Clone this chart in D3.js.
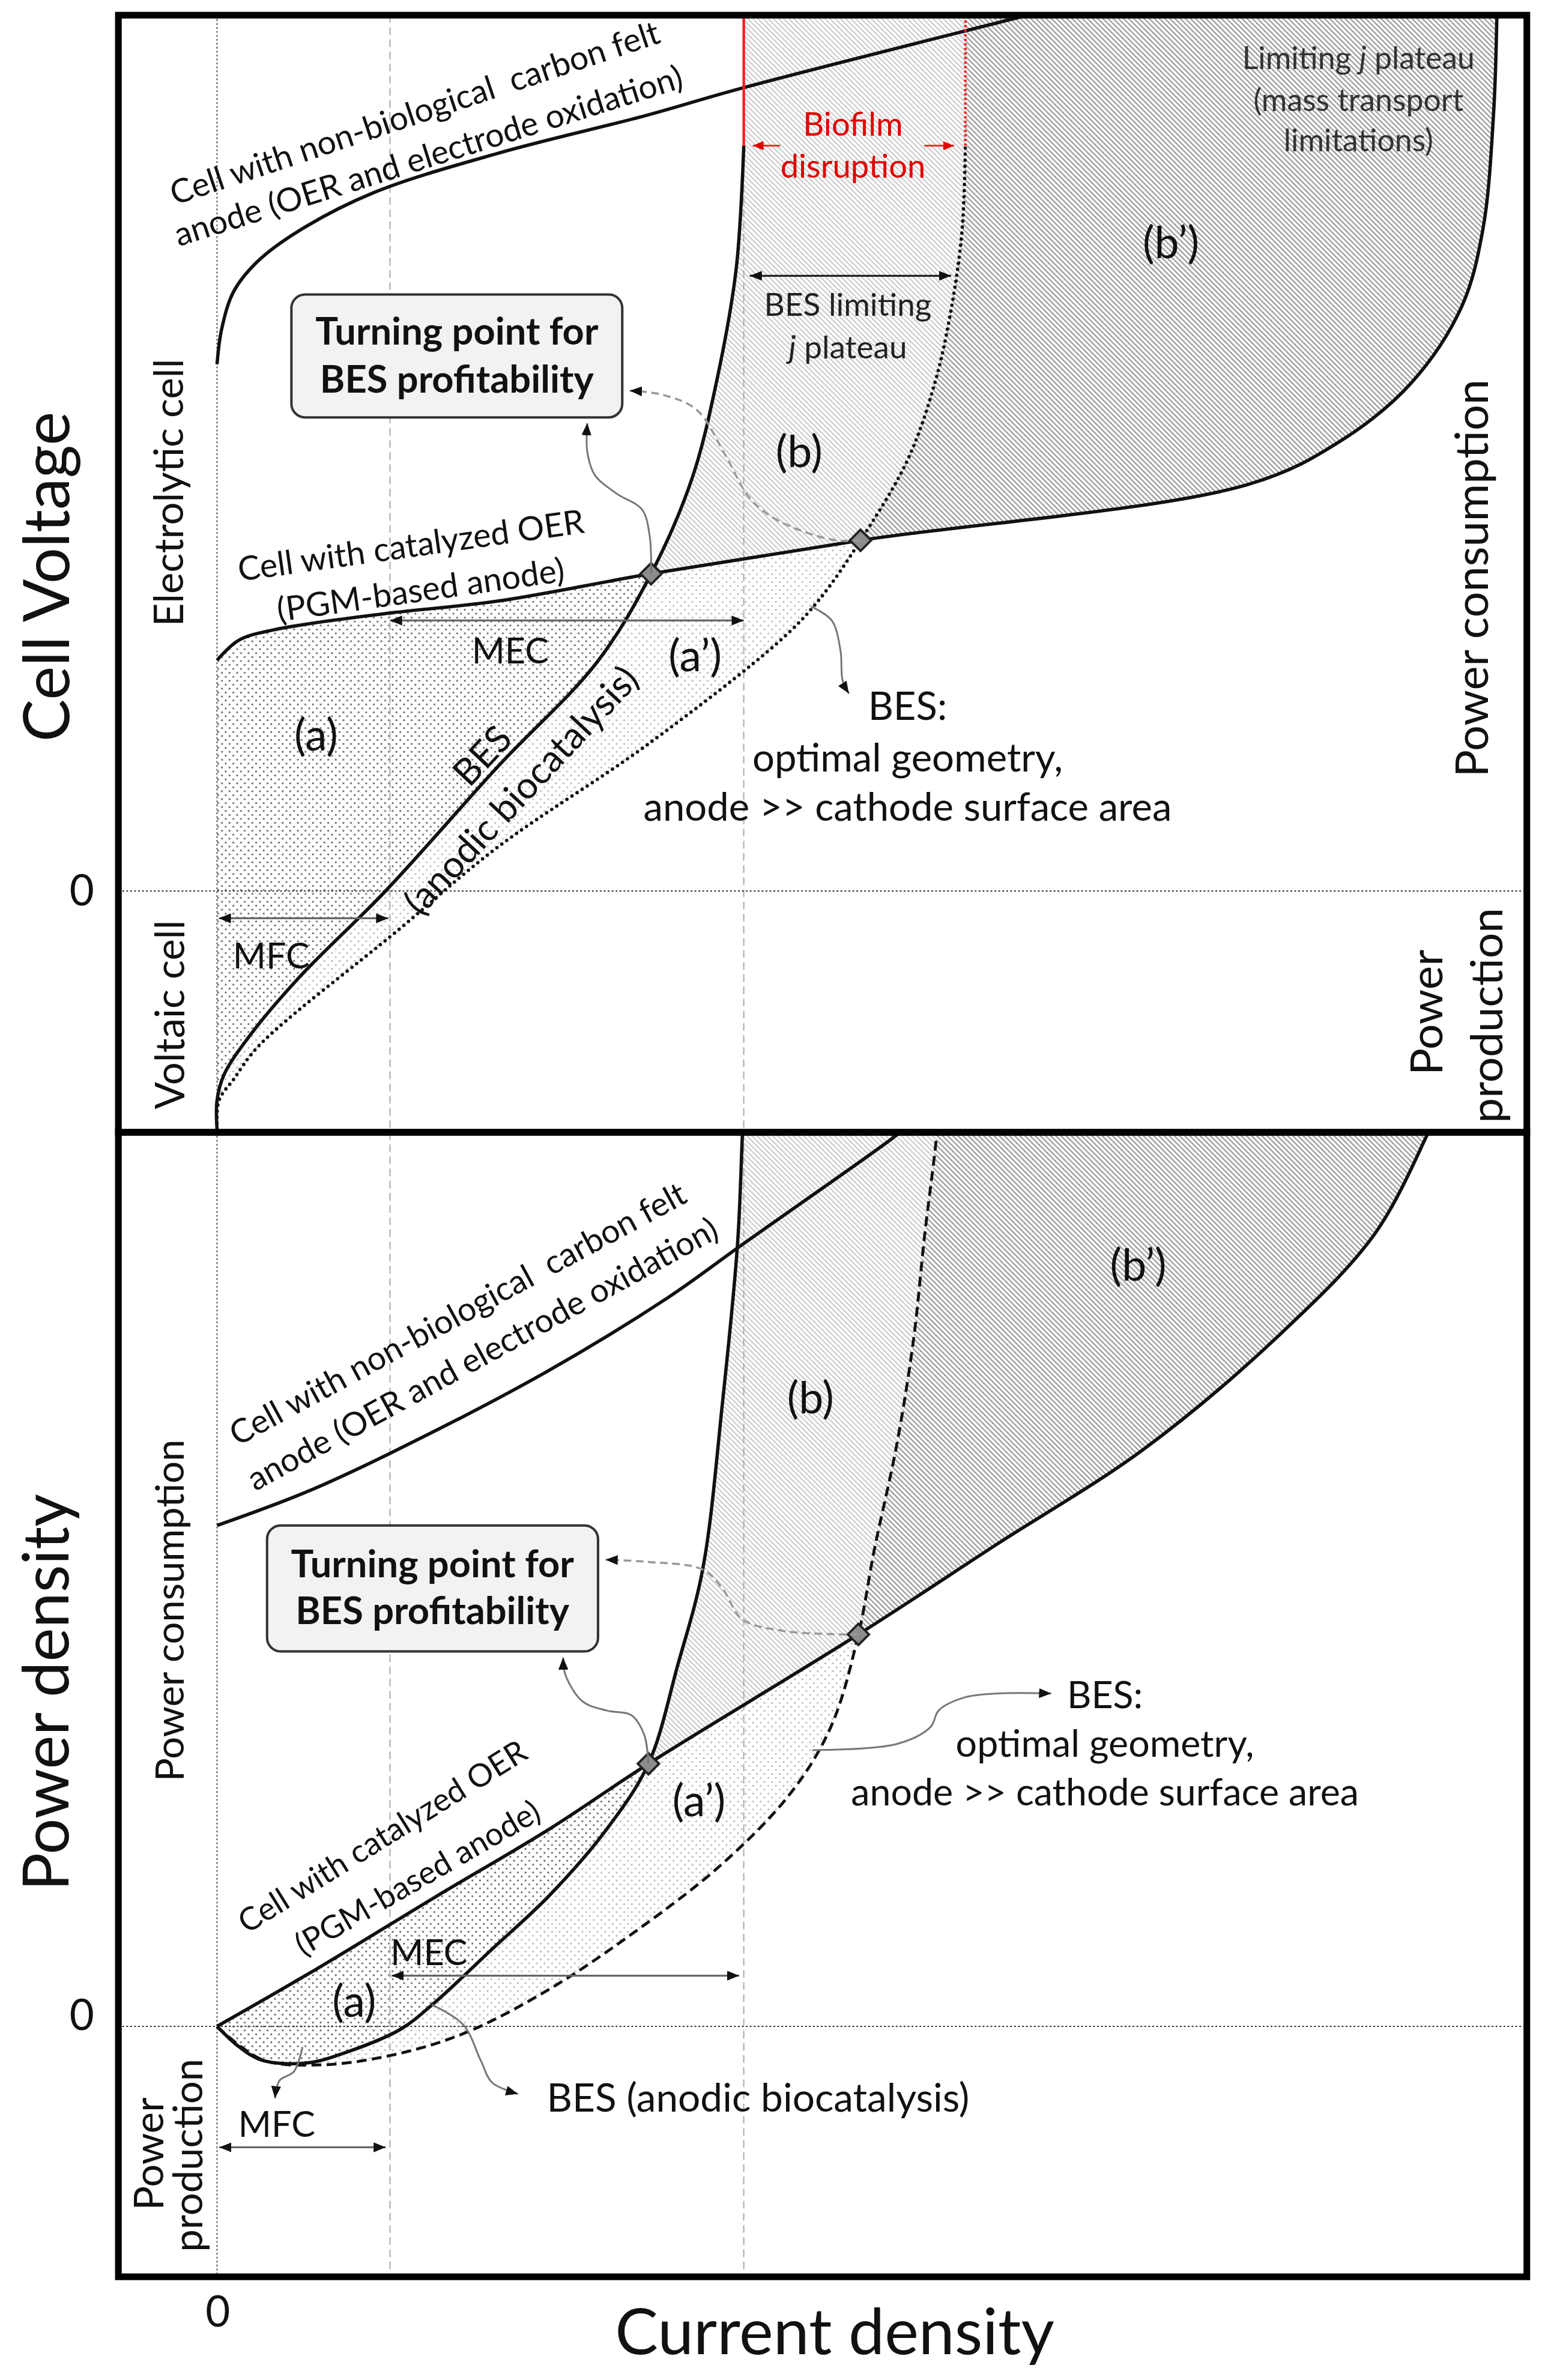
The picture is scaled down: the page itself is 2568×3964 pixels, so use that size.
<!DOCTYPE html>
<html lang="en">
<head>
<meta charset="utf-8">
<title>Cell voltage and power density vs current density</title>
<script src="https://cdn.jsdelivr.net/npm/d3@7"></script>
<style>
  body { margin: 0; background: #fff; }
  svg text { font-family: Lato, "Open Sans", sans-serif; fill: #111; }
</style>
</head>
<body>
<script>
// ---- values (schematic, arbitrary units) ----
// j = current density, V = cell voltage, P = power density
var jMFC = 0.985;   // dashed line: end of MFC range
var jMEC = 3.0;     // dashed line: BES limiting j / start of biofilm disruption
var jOpt = 4.262;   // limiting j of the optimal-geometry BES

// cell voltage panel
var feltV = [[0, 3.47], [0.026, 3.70], [0.095, 3.95], [0.233, 4.15], [0.467, 4.35], [0.89, 4.60], [1.6, 4.86], [2.446, 5.11], [2.991, 5.29], [4.582, 5.76], [4.75, 5.81]];
var pgmV = [[0, 1.52], [0.121, 1.65], [0.32, 1.72], [0.977, 1.83], [1.6, 1.91], [2.472, 2.09], [3.665, 2.31], [5.878, 2.68], [6.406, 2.97], [6.804, 3.35], [7.089, 3.85], [7.21, 4.36], [7.27, 5.11], [7.29, 5.80]];
var besV = [[0, -1.57], [0, -1.38], [0.04, -1.21], [0.182, -0.96], [0.467, -0.57], [0.96, 0], [1.6, 0.82], [2.166, 1.51], [2.472, 2.09], [2.706, 2.72], [2.844, 3.35], [2.957, 4.10], [3.0, 4.91]];
var optV = [[0, -1.57], [0.011, -1.38], [0.095, -1.24], [0.238, -1.02], [1.029, -0.26], [1.6, 0.29], [2.446, 0.96], [3.207, 1.65], [3.423, 1.91], [3.665, 2.31], [3.933, 2.84], [4.089, 3.35], [4.184, 3.85], [4.244, 4.36], [4.262, 4.91]];
var turnV = [[2.472, 2.09], [3.665, 2.31]];

// power density panel
var feltP = [[0, 3.30], [0.497, 3.515], [0.976, 3.77], [1.858, 4.30], [2.567, 4.80], [2.991, 5.15], [3.838, 5.843], [3.92, 5.92]];
var pgmP = [[0, 0], [0.585, 0.39], [1.24, 0.85], [1.893, 1.30], [2.457, 1.73], [3.653, 2.582], [4.447, 3.18], [5.279, 3.803], [6.048, 4.552], [6.592, 5.218], [6.88, 5.843], [6.92, 5.95]];
var besP = [[0, 0], [0.127, -0.136], [0.258, -0.224], [0.519, -0.24], [0.749, -0.166], [1.044, -0.02], [1.24, 0.157], [1.568, 0.51], [1.893, 0.862], [2.222, 1.303], [2.457, 1.73], [2.624, 2.38], [2.766, 3.01], [2.878, 4.10], [2.965, 5.163], [2.991, 5.84], [2.996, 5.95]];
var optP = [[0, 0], [0.258, -0.22], [0.585, -0.254], [0.976, -0.195], [1.403, -0.048], [1.893, 0.245], [2.385, 0.627], [2.875, 1.068], [3.268, 1.538], [3.498, 1.978], [3.653, 2.582], [3.743, 3.137], [3.871, 3.83], [3.967, 4.525], [4.031, 5.22], [4.095, 5.83], [4.102, 5.95]];
var turnP = [[2.457, 1.73], [3.653, 2.582]];

// tick labels
var tickV = [0], tickP = [0], tickJ = [0];

// ---- layout (drawing units, the viewBox scales them to the window) ----
var W = 1016, H = 1568;
var frame = {left: 78, right: 1006, top: 10, mid: 746, bottom: 1500};

var svg = d3.select("body").append("svg")
    .attr("width", 2568)
    .attr("height", 3964)
    .attr("viewBox", "0 0 " + W + " " + H)
    .attr("preserveAspectRatio", "none");

svg.append("rect").attr("width", W).attr("height", H).attr("fill", "#fff");

var x = d3.scaleLinear().domain([0, 7.46]).range([143, frame.right]);
var yV = d3.scaleLinear().domain([0, 5.77]).range([587, frame.top]);
var yP = d3.scaleLinear().domain([0, 5.89]).range([1335, frame.mid]);

var defs = svg.append("defs");

// fill textures
function hatch(id, color, width) {
    var p = defs.append("pattern").attr("id", id)
        .attr("patternUnits", "userSpaceOnUse")
        .attr("width", 2.4).attr("height", 2.4)
        .attr("patternTransform", "rotate(-45)");
    p.append("rect").attr("width", 2.4).attr("height", 2.4).attr("fill", "#fff");
    p.append("line").attr("x1", 1.2).attr("y1", -1).attr("x2", 1.2).attr("y2", 3.4)
        .attr("stroke", color).attr("stroke-width", width);
}
function dots(id, color, r) {
    var p = defs.append("pattern").attr("id", id)
        .attr("patternUnits", "userSpaceOnUse")
        .attr("width", 5).attr("height", 5.2);
    p.append("rect").attr("width", 5).attr("height", 5.2).attr("fill", "#fff");
    p.append("circle").attr("cx", 1.25).attr("cy", 1.3).attr("r", r).attr("fill", color);
    p.append("circle").attr("cx", 3.75).attr("cy", 3.9).attr("r", r).attr("fill", color);
}
hatch("hatchLight", "#c2c2c2", 0.75);
hatch("hatchDark", "#9a9a9a", 0.9);
dots("dotsDark", "#666", 0.65);
dots("dotsLight", "#b0b0b0", 0.6);

// arrow heads
function marker(id, color, len, wid) {
    defs.append("marker").attr("id", id)
        .attr("viewBox", "0 0 " + len + " " + wid)
        .attr("refX", len).attr("refY", wid / 2)
        .attr("markerUnits", "userSpaceOnUse")
        .attr("markerWidth", len).attr("markerHeight", wid)
        .attr("orient", "auto-start-reverse")
        .append("path")
        .attr("d", "M0,0L" + len + "," + (wid / 2) + "L0," + wid + "Z")
        .attr("fill", color);
}
marker("head", "#111", 8, 6.5);
marker("headRed", "#e00000", 7, 6);

// clip each panel to its frame
defs.append("clipPath").attr("id", "clipV").append("rect")
    .attr("x", frame.left).attr("y", frame.top)
    .attr("width", frame.right - frame.left).attr("height", frame.mid - frame.top);
defs.append("clipPath").attr("id", "clipP").append("rect")
    .attr("x", frame.left).attr("y", frame.mid)
    .attr("width", frame.right - frame.left).attr("height", frame.bottom - frame.mid);

function smooth(y) {
    return d3.line().x(function(d) { return x(d[0]); }).y(function(d) { return y(d[1]); })
        .curve(d3.curveCatmullRom.alpha(0.5));
}
function straight(y) {
    return d3.line().x(function(d) { return x(d[0]); }).y(function(d) { return y(d[1]); });
}
function rev(a) { return a.slice().reverse(); }
function find(a, pt) {
    return a.findIndex(function(d) { return d[0] === pt[0] && d[1] === pt[1]; });
}
// closed outline made of several curve pieces joined end to end
function region(parts, y) {
    var line = smooth(y);
    return parts.filter(function(p) { return p.length > 1; })
        .map(function(p, i) { var s = line(p); return i ? "L" + s.slice(1) : s; })
        .join("") + "Z";
}

var panels = [
    {y: yV, clip: "clipV", felt: feltV, pgm: pgmV, bes: besV, opt: optV, turn: turnV,
     capB: [[jMEC, 6.3], [jOpt, 6.3]], capB2: [[jOpt, 6.3], [7.6, 6.3]], dotted: true},
    {y: yP, clip: "clipP", felt: feltP, pgm: pgmP, bes: besP, opt: optP, turn: turnP,
     capB: [], capB2: [], dotted: false}
];

// shaded regions (a), (a'), (b), (b')
panels.forEach(function(p) {
    var i1p = find(p.pgm, p.turn[0]), i2p = find(p.pgm, p.turn[1]);
    var i1b = find(p.bes, p.turn[0]), i2o = find(p.opt, p.turn[1]);
    var regs = [
        [[p.pgm.slice(0, i1p + 1), rev(p.bes.slice(0, i1b + 1))], "dotsDark"],
        [[p.bes.slice(0, i1b + 1), p.pgm.slice(i1p, i2p + 1), rev(p.opt.slice(0, i2o + 1))], "dotsLight"],
        [[p.bes.slice(i1b), p.capB, rev(p.opt.slice(i2o)), rev(p.pgm.slice(i1p, i2p + 1))], "hatchLight"],
        [[p.opt.slice(i2o), p.capB2, rev(p.pgm.slice(i2p))], "hatchDark"]
    ];
    var g = svg.append("g").attr("clip-path", "url(#" + p.clip + ")");
    regs.forEach(function(r) {
        g.append("path").attr("d", region(r[0], p.y)).attr("fill", "url(#" + r[1] + ")");
    });
});

// guide lines: j = 0, the two dashed j limits, and the zero lines
var guides = svg.append("g");
guides.append("line")
    .attr("x1", x(0)).attr("x2", x(0)).attr("y1", frame.top).attr("y2", frame.bottom)
    .attr("stroke", "#555").attr("stroke-width", 0.8).attr("stroke-dasharray", "1.2 1.4");
[jMFC, jMEC].forEach(function(j) {
    guides.append("line")
        .attr("x1", x(j)).attr("x2", x(j)).attr("y1", frame.top).attr("y2", frame.bottom)
        .attr("stroke", "#aaa").attr("stroke-width", 0.8).attr("stroke-dasharray", "5 3");
});
[yV(0), yP(0)].forEach(function(y0) {
    guides.append("line")
        .attr("x1", frame.left).attr("x2", frame.right).attr("y1", y0).attr("y2", y0)
        .attr("stroke", "#333").attr("stroke-width", 0.8).attr("stroke-dasharray", "1.2 1.4");
});

// curves
panels.forEach(function(p) {
    var g = svg.append("g").attr("clip-path", "url(#" + p.clip + ")")
        .attr("fill", "none").attr("stroke", "#111").attr("stroke-linejoin", "round");
    var line = smooth(p.y);
    [p.felt, p.pgm, p.bes].forEach(function(c) {
        g.append("path").attr("d", line(c)).attr("stroke-width", 2.2);
    });
    var o = g.append("path").attr("d", line(p.opt));
    if (p.dotted) {
        o.attr("stroke-width", 2.3).attr("stroke-linecap", "round").attr("stroke-dasharray", "0 4");
    } else {
        o.attr("stroke-width", 1.9).attr("stroke-dasharray", "6.5 3.5");
    }
});

// biofilm disruption limits (red)
var topJ = [[jMEC, besV[besV.length - 1][1]], [jMEC, 5.77]];
var topO = [[jOpt, optV[optV.length - 1][1]], [jOpt, 5.77]];
svg.append("path").attr("d", straight(yV)(topJ))
    .attr("stroke", "#ff1a1a").attr("stroke-width", 1.7).attr("fill", "none");
svg.append("path").attr("d", straight(yV)(topO))
    .attr("stroke", "#ff1a1a").attr("stroke-width", 1.7).attr("fill", "none")
    .attr("stroke-dasharray", "1.5 1.5");

// turning points
[[turnV, yV], [turnP, yP]].forEach(function(t) {
    svg.selectAll(null).data(t[0]).enter().append("path")
        .attr("d", "M0,-7L7,0L0,7L-7,0Z")
        .attr("transform", function(d) { return "translate(" + x(d[0]) + "," + t[1](d[1]) + ")"; })
        .attr("fill", "#8c8c8c").attr("stroke", "#222").attr("stroke-width", 1.5);
});

// ---- annotations ----
function arrow(pts, y, opt) {
    opt = opt || {};
    var p = svg.append("path")
        .attr("d", (opt.curved ? smooth(y) : straight(y))(pts))
        .attr("fill", "none")
        .attr("stroke", opt.color || "#666")
        .attr("stroke-width", opt.width || 1.3)
        .attr("marker-end", "url(#" + (opt.head || "head") + ")");
    if (opt.both) p.attr("marker-start", "url(#" + (opt.head || "head") + ")");
    if (opt.dash) p.attr("stroke-dasharray", opt.dash);
}

// voltage panel
arrow([[2.472, 2.09], [2.464, 2.34], [2.42, 2.514], [2.28, 2.615], [2.152, 2.74], [2.109, 2.892], [2.109, 3.082]], yV, {curved: true, color: "#777", width: 1.2});
arrow([[3.665, 2.31], [3.527, 2.31], [3.324, 2.375], [3.152, 2.47], [3.026, 2.60], [2.896, 2.87], [2.732, 3.17], [2.534, 3.27], [2.351, 3.296]], yV, {curved: true, color: "#999", width: 1.4, dash: "5 3"});
arrow([[3.384, 1.874], [3.501, 1.782], [3.551, 1.584], [3.563, 1.386], [3.599, 1.301]], yV, {curved: true, color: "#777", width: 1.2});
arrow([[jMFC, 1.782], [jMEC, 1.782]], yV, {both: true});
arrow([[0.01, -0.18], [0.975, -0.18]], yV, {both: true});
arrow([[3.034, 4.053], [4.181, 4.053]], yV, {both: true, color: "#222"});
arrow([[3.207, 4.91], [3.052, 4.91]], yV, {color: "#ff1a1a", head: "headRed", width: 1.1});
arrow([[4.028, 4.91], [4.197, 4.91]], yV, {color: "#ff1a1a", head: "headRed", width: 1.1});

// power panel
arrow([[2.457, 1.73], [2.433, 1.92], [2.36, 2.05], [2.222, 2.08], [2.083, 2.14], [1.986, 2.31], [1.971, 2.43]], yP, {curved: true, color: "#777", width: 1.2});
arrow([[3.653, 2.582], [3.559, 2.582], [3.218, 2.607], [2.991, 2.682], [2.879, 2.884], [2.765, 3.01], [2.453, 3.06], [2.213, 3.074]], yP, {curved: true, color: "#999", width: 1.4, dash: "5 3"});
arrow([[3.390, 1.819], [3.871, 1.86], [4.063, 1.971], [4.111, 2.082], [4.255, 2.166], [4.447, 2.193], [4.751, 2.193]], yP, {curved: true, color: "#777", width: 1.2});
arrow([[0.994, 0.334], [2.974, 0.334]], yP, {both: true});
arrow([[0.013, -0.797], [0.961, -0.797]], yP, {both: true});
arrow([[0.487, -0.136], [0.438, -0.298], [0.356, -0.357], [0.330, -0.474]], yP, {curved: true, color: "#777", width: 1.2});
arrow([[1.223, 0.143], [1.403, 0.01], [1.502, -0.225], [1.567, -0.371], [1.714, -0.445]], yP, {curved: true, color: "#777", width: 1.2});

// "Turning point" boxes
function box(y, j0, j1, v0, v1, jc, base) {
    svg.append("rect")
        .attr("x", x(j0)).attr("y", y(v1))
        .attr("width", x(j1) - x(j0)).attr("height", y(v0) - y(v1))
        .attr("rx", 9)
        .attr("fill", "#f2f2f2").attr("stroke", "#333").attr("stroke-width", 1.6);
    ["Turning point for", "BES profitability"].forEach(function(s, i) {
        svg.append("text").attr("x", x(jc)).attr("y", y(base[i]))
            .attr("text-anchor", "middle").attr("font-size", 25).attr("font-weight", 700)
            .text(s);
    });
}
box(yV, 0.4236, 2.308, 3.12, 3.93, 1.366, [3.60, 3.284]);
box(yP, 0.285, 2.170, 2.47, 3.30, 1.227, [2.96, 2.652]);

// in-plot labels; "_j_" marks an italic j
var red = "#e00000";
var labelsV = [
    {t: "Cell with non-biological  carbon felt", j: 1.124, v: 5.133, s: 21.8, r: -18.5, c: 1},
    {t: "anode (OER and electrode oxidation)", j: 1.202, v: 4.85, s: 21.8, r: -17.5, c: 1},
    {t: "Cell with catalyzed OER", j: 1.103, v: 2.287, s: 22, r: -8, c: 1},
    {t: "(PGM-based anode)", j: 1.158, v: 1.994, s: 22, r: -8, c: 1},
    {t: "BES", j: 1.504, v: 0.898, s: 24.5, r: -47, c: 1},
    {t: "(anodic biocatalysis)", j: 1.726, v: 0.67, s: 24.5, r: -47, c: 1},
    {t: "(a)", j: 0.564, v: 1.035, s: 29, c: 1},
    {t: "(a\u2019)", j: 2.723, v: 1.56, s: 29, c: 1},
    {t: "MEC", j: 1.67, v: 1.59, s: 23.5, c: 1},
    {t: "MFC", j: 0.309, v: -0.421, s: 23.5, c: 1},
    {t: "(b)", j: 3.315, v: 2.905, s: 29, c: 1},
    {t: "(b\u2019)", j: 5.433, v: 4.28, s: 29, c: 1},
    {t: "Biofilm", j: 3.622, v: 4.975, s: 21.5, f: red},
    {t: "disruption", j: 3.622, v: 4.70, s: 21.5, f: red},
    {t: "BES limiting", j: 3.593, v: 3.79, s: 21, f: "#222"},
    {t: "_j_ plateau", j: 3.593, v: 3.51, s: 21, f: "#222"},
    {t: "Limiting _j_ plateau", j: 6.501, v: 5.416, s: 20.5, f: "#333"},
    {t: "(mass transport", j: 6.501, v: 5.138, s: 20.5, f: "#333"},
    {t: "limitations)", j: 6.501, v: 4.873, s: 20.5, f: "#333"},
    {t: "BES:", j: 3.933, v: 1.129, s: 25.8},
    {t: "optimal geometry,", j: 3.933, v: 0.786, s: 25.8},
    {t: "anode >> cathode surface area", j: 3.933, v: 0.463, s: 25.8}
];
var labelsP = [
    {t: "Cell with non-biological  carbon felt", j: 1.368, v: 4.701, s: 21.8, r: -28.5, c: 1},
    {t: "anode (OER and electrode oxidation)", j: 1.509, v: 4.436, s: 21.8, r: -28.7, c: 1},
    {t: "(b)", j: 3.380, v: 4.15, s: 29, c: 1},
    {t: "(b\u2019)", j: 5.247, v: 5.024, s: 29, c: 1},
    {t: "BES:", j: 5.057, v: 2.096, s: 24.8},
    {t: "optimal geometry,", j: 5.057, v: 1.777, s: 24.8},
    {t: "anode >> cathode surface area", j: 5.057, v: 1.455, s: 24.8},
    {t: "Cell with catalyzed OER", j: 0.937, v: 1.259, s: 21, r: -32, c: 1},
    {t: "(PGM-based anode)", j: 1.138, v: 0.987, s: 21, r: -30, c: 1},
    {t: "MEC", j: 1.207, v: 0.495, s: 23.5, c: 1},
    {t: "(a)", j: 0.781, v: 0.172, s: 29, c: 1},
    {t: "(a\u2019)", j: 2.745, v: 1.494, s: 29, c: 1},
    {t: "MFC", j: 0.34, v: -0.636, s: 23.5, c: 1},
    {t: "BES (anodic biocatalysis)", j: 1.878, v: -0.562, s: 26, a: "start"}
];

function writeLabels(list, y) {
    list.forEach(function(d) {
        var t = svg.append("text")
            .attr("transform", "translate(" + x(d.j) + "," + y(d.v) + ")" + (d.r ? " rotate(" + d.r + ")" : ""))
            .attr("text-anchor", d.a || "middle")
            .attr("font-size", d.s)
            .style("white-space", "pre");
        if (d.c) t.attr("dominant-baseline", "central");
        if (d.f) t.style("fill", d.f);
        d.t.split("_").forEach(function(part, i) {
            if (!part) return;
            t.append("tspan").attr("font-style", i % 2 ? "italic" : null).text(part);
        });
    });
}
writeLabels(labelsV, yV);
writeLabels(labelsP, yP);

// frames
[[frame.top, frame.mid], [frame.mid, frame.bottom]].forEach(function(r) {
    svg.append("rect")
        .attr("x", frame.left).attr("y", r[0])
        .attr("width", frame.right - frame.left).attr("height", r[1] - r[0])
        .attr("fill", "none").attr("stroke", "#000").attr("stroke-width", 4.4);
});

// "0" ticks through d3 axes
function styleAxis(g) {
    g.select(".domain").remove();
    g.attr("font-family", null).attr("font-size", 28);
    g.selectAll("text").style("fill", "#111");
}
var fmt = d3.format("d");
svg.append("g").attr("transform", "translate(" + frame.left + ",0)")
    .call(d3.axisLeft(yV).tickValues(tickV).tickFormat(fmt).tickSize(0).tickPadding(16)).call(styleAxis);
svg.append("g").attr("transform", "translate(" + frame.left + ",-7)")
    .call(d3.axisLeft(yP).tickValues(tickP).tickFormat(fmt).tickSize(0).tickPadding(16)).call(styleAxis);
svg.append("g").attr("transform", "translate(0," + frame.bottom + ")")
    .call(d3.axisBottom(x).tickValues(tickJ).tickFormat(fmt).tickSize(0).tickPadding(13)).call(styleAxis);

// titles and side notes
var side = [
    {t: "Cell Voltage", x: 45.5, y: 380, s: 42},
    {t: "Electrolytic cell", x: 120.7, y: 324.5, s: 26.5},
    {t: "Voltaic cell", x: 121.5, y: 668.5, s: 26.5},
    {t: "Power consumption", x: 980.5, y: 381, s: 30},
    {t: "Power", x: 950.2, y: 667, s: 29.5},
    {t: "production", x: 989.8, y: 669, s: 29.5},
    {t: "Power density", x: 45, y: 1115, s: 42},
    {t: "Power consumption", x: 121, y: 1061, s: 25.8},
    {t: "Power", x: 107.8, y: 1419, s: 26.5},
    {t: "production", x: 133.2, y: 1420, s: 26.5}
];
side.forEach(function(d) {
    svg.append("text")
        .attr("transform", "translate(" + d.x + "," + d.y + ") rotate(-90)")
        .attr("text-anchor", "middle").attr("font-size", d.s)
        .text(d.t);
});
svg.append("text").attr("x", 550).attr("y", 1551)
    .attr("text-anchor", "middle").attr("font-size", 42.5)
    .text("Current density");
</script>
</body>
</html>
